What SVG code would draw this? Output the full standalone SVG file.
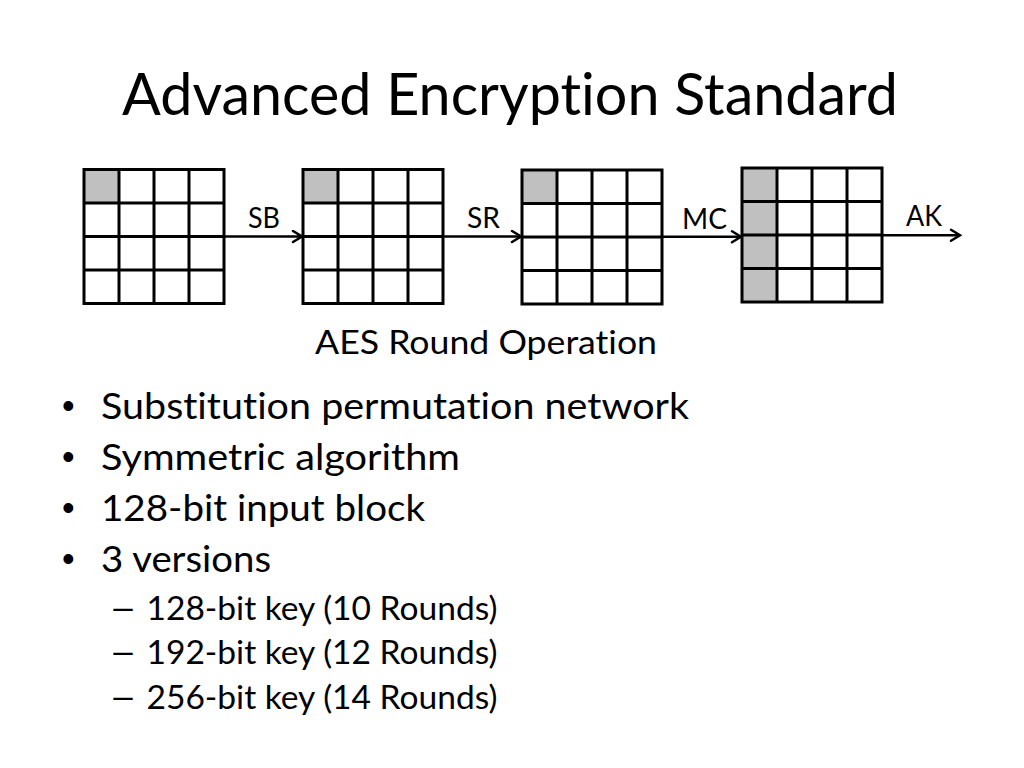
<svg xmlns="http://www.w3.org/2000/svg" xmlns:xlink="http://www.w3.org/1999/xlink" width="1024" height="768" viewBox="0 0 1024 768">
  <style>
    text { font-family: Lato, "Liberation Sans", sans-serif; fill: #000; font-variant-ligatures: none; }
    .title { font-size: 58px; }
    .lbl { font-size: 28px; }
    .cap { font-size: 32px; }
    .b1 { font-size: 37px; }
    .b2 { font-size: 32px; }
    .bul { font-family: "Liberation Sans", sans-serif; font-size: 36px; }
    .grid { fill: none; stroke: #000; stroke-width: 3; stroke-linejoin: miter; }
    .shade { fill: #c0c0c0; stroke: none; }
    .conn { stroke: #000; stroke-width: 2.5; fill: none; }
  </style>
  <defs>
    <marker id="arrow" markerUnits="userSpaceOnUse" markerWidth="14" markerHeight="16" refX="11" refY="7" orient="auto">
      <path d="M2,1.5 L11,7 L2,12.5" fill="none" stroke="#000" stroke-width="2.5" stroke-linecap="round" stroke-linejoin="miter"/>
    </marker>
    <path id="gridlines" class="grid" d="M0,0 H140 V134 H0 Z M35,0 V134 M70,0 V134 M105,0 V134 M0,33.5 H140 M0,67 H140 M0,100.5 H140"/>
  </defs>
  <rect width="1024" height="768" fill="#fff"/>

  <text class="title" x="122" y="115" textLength="776" lengthAdjust="spacingAndGlyphs">Advanced Encryption Standard</text>

  <g id="state1">
    <rect class="shade" x="84" y="169.5" width="35" height="33.5"/>
    <use xlink:href="#gridlines" href="#gridlines" transform="translate(84,169.5)"/>
  </g>
  <g id="state2">
    <rect class="shade" x="303" y="169.5" width="35" height="33.5"/>
    <use xlink:href="#gridlines" href="#gridlines" transform="translate(303,169.5)"/>
  </g>
  <g id="state3">
    <rect class="shade" x="522" y="170" width="35" height="33.5"/>
    <use xlink:href="#gridlines" href="#gridlines" transform="translate(522,170)"/>
  </g>
  <g id="state4">
    <rect class="shade" x="742" y="168" width="35" height="134"/>
    <use xlink:href="#gridlines" href="#gridlines" transform="translate(742,168)"/>
  </g>

  <g id="connectors">
    <line class="conn" x1="224" y1="236.5" x2="302" y2="236.5" marker-end="url(#arrow)"/>
    <line class="conn" x1="443" y1="236.5" x2="521" y2="236.5" marker-end="url(#arrow)"/>
    <line class="conn" x1="662" y1="236.8" x2="741" y2="236.8" marker-end="url(#arrow)"/>
    <line class="conn" x1="882" y1="235.3" x2="960" y2="235.3" marker-end="url(#arrow)"/>
    <text class="lbl" x="248" y="228" textLength="32" lengthAdjust="spacingAndGlyphs">SB</text>
    <text class="lbl" x="467" y="228" textLength="33" lengthAdjust="spacingAndGlyphs">SR</text>
    <text class="lbl" x="682" y="228.5" textLength="45" lengthAdjust="spacingAndGlyphs">MC</text>
    <text class="lbl" x="906" y="226" textLength="36" lengthAdjust="spacingAndGlyphs">AK</text>
  </g>

  <text class="cap" x="315" y="353.5" textLength="342" lengthAdjust="spacingAndGlyphs">AES Round Operation</text>

  <g id="bullets">
    <text class="bul" x="62" y="418">•</text>
    <text class="b1" x="101" y="419" textLength="588" lengthAdjust="spacingAndGlyphs">Substitution permutation network</text>
    <text class="bul" x="62" y="469">•</text>
    <text class="b1" x="101" y="470" textLength="359" lengthAdjust="spacingAndGlyphs">Symmetric algorithm</text>
    <text class="bul" x="62" y="520">•</text>
    <text class="b1" x="101" y="521" textLength="324" lengthAdjust="spacingAndGlyphs">128-bit input block</text>
    <text class="bul" x="62" y="571">•</text>
    <text class="b1" x="101" y="572" textLength="170" lengthAdjust="spacingAndGlyphs">3 versions</text>

    <text class="b2" x="109" y="619.5" textLength="28" lengthAdjust="spacingAndGlyphs">–</text>
    <text class="b2" x="146.5" y="619.5" textLength="351" lengthAdjust="spacingAndGlyphs">128-bit key (10 Rounds)</text>
    <text class="b2" x="109" y="664" textLength="28" lengthAdjust="spacingAndGlyphs">–</text>
    <text class="b2" x="146.5" y="664" textLength="351" lengthAdjust="spacingAndGlyphs">192-bit key (12 Rounds)</text>
    <text class="b2" x="109" y="708.5" textLength="28" lengthAdjust="spacingAndGlyphs">–</text>
    <text class="b2" x="146.5" y="708.5" textLength="351" lengthAdjust="spacingAndGlyphs">256-bit key (14 Rounds)</text>
  </g>
</svg>
